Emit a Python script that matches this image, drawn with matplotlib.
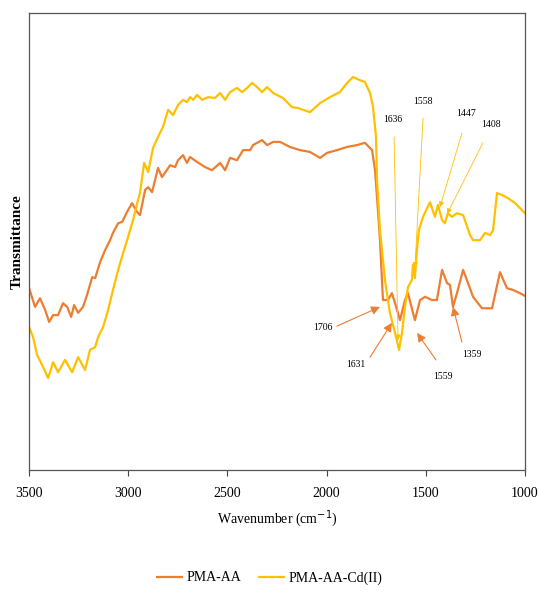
import matplotlib
matplotlib.use("Agg")
import matplotlib.pyplot as plt

# FTIR spectra (wavenumber in cm-1, transmittance in arbitrary units)
wn_pma = [3500, 3470, 3445, 3419, 3399, 3379, 3354, 3329, 3308, 3288, 3273, 3253, 3228, 3208,
          3182, 3167, 3142, 3117, 3092, 3077, 3051, 3031, 3006, 2981, 2956, 2941, 2915, 2900,
          2880, 2850, 2830, 2789, 2764, 2749, 2724, 2704, 2689, 2653, 2613, 2578, 2537, 2512,
          2487, 2452, 2421, 2386, 2371, 2326, 2300, 2270, 2235, 2185, 2134, 2084, 2033, 1998,
          1948, 1897, 1847, 1807, 1771, 1756, 1746, 1731, 1716, 1691, 1671, 1655, 1630, 1605,
          1590, 1555, 1529, 1504, 1469, 1444, 1418, 1393, 1378, 1363, 1343, 1312, 1287, 1262,
          1217, 1166, 1126, 1091, 1060, 1025, 1000]
t_pma = [39.8, 35.7, 37.6, 35.0, 32.4, 33.9, 33.9, 36.5, 35.7, 33.5, 36.1, 34.4, 35.7, 38.3,
         42.2, 42.0, 45.5, 48.1, 50.3, 51.9, 54.0, 54.3, 56.5, 58.4, 56.5, 55.8, 61.3, 61.9,
         60.8, 66.1, 64.1, 66.7, 66.3, 67.8, 68.9, 67.2, 68.5, 67.4, 66.3, 65.6, 67.2, 65.6,
         68.3, 67.8, 70.0, 70.0, 71.1, 72.2, 71.1, 71.8, 71.8, 70.7, 70.0, 69.6, 68.3, 69.4,
         70.0, 70.7, 71.1, 71.6, 70.0, 65.6, 59.7, 50.3, 37.2, 37.2, 38.7, 36.5, 32.8, 37.2,
         38.7, 32.8, 37.2, 37.9, 37.2, 37.2, 43.8, 40.9, 40.5, 35.7, 38.7, 43.8, 40.9, 37.9,
         35.4, 35.4, 43.3, 39.8, 39.4, 38.7, 38.1]

wn_cd = [3500, 3480, 3460, 3429, 3404, 3379, 3354, 3319, 3283, 3253, 3218, 3193, 3167, 3152,
         3127, 3102, 3077, 3051, 3026, 3001, 2976, 2951, 2941, 2920, 2900, 2875, 2850, 2825,
         2799, 2774, 2749, 2724, 2704, 2689, 2673, 2653, 2628, 2598, 2563, 2537, 2512, 2487,
         2452, 2426, 2401, 2376, 2351, 2326, 2300, 2270, 2220, 2174, 2144, 2084, 2033, 1983,
         1933, 1897, 1867, 1832, 1807, 1781, 1766, 1751, 1746, 1731, 1706, 1681, 1655, 1635,
         1620, 1605, 1590, 1570, 1565, 1555, 1545, 1535, 1514, 1479, 1454, 1439, 1418, 1404,
         1389, 1368, 1343, 1312, 1277, 1262, 1227, 1201, 1176, 1161, 1141, 1116, 1086, 1050,
         1025, 1000]
t_cd = [31.3, 29.1, 25.2, 22.5, 20.1, 23.6, 21.4, 24.1, 21.4, 24.7, 21.9, 26.3, 26.9, 29.1,
        31.3, 35.0, 39.4, 43.8, 47.5, 51.0, 54.7, 59.1, 60.6, 67.2, 65.2, 70.5, 72.9, 75.1,
        78.8, 77.7, 79.9, 81.0, 80.5, 81.6, 81.0, 82.1, 81.0, 81.6, 81.4, 82.5, 81.0, 82.7,
        83.6, 82.7, 83.6, 84.7, 83.8, 82.7, 83.8, 82.5, 81.4, 79.4, 79.2, 78.3, 80.3, 81.6,
        82.7, 84.7, 86.0, 85.3, 84.9, 82.5, 79.4, 72.9, 63.5, 52.5, 41.6, 34.4, 30.0, 26.3,
        30.0, 35.7, 40.0, 41.6, 44.9, 42.0, 48.1, 52.5, 55.4, 58.6, 55.4, 58.0, 54.7, 54.0,
        56.2, 55.4, 56.2, 55.8, 51.4, 50.3, 50.3, 51.9, 51.4, 52.5, 60.6, 60.2, 59.5, 58.4,
        57.3, 56.2]

# peak labels: (label, text position, arrow tail, arrow head)
pma_peaks = [("1706", (2018, 31.1), (1948, 31.5), (1731, 35.7)),
             ("1631", (1852, 23.0), (1781, 24.7), (1671, 32.2)),
             ("1559", (1413, 20.4), (1449, 24.1), (1544, 30.0)),
             ("1359", (1267, 25.2), (1318, 28.0), (1363, 35.7))]
cd_peaks = [("1636", (1665, 76.8), (1660, 72.9), (1640, 28.4)),
            ("1558", (1514, 80.7), (1514, 77.0), (1555, 44.2)),
            ("1447", (1298, 78.1), (1318, 73.7), (1429, 57.5)),
            ("1408", (1172, 75.7), (1212, 71.6), (1393, 56.0))]

orange = "#ED7D31"
gold = "#FFC000"
serif = ["Liberation Serif", "DejaVu Serif"]

fig = plt.figure(figsize=(5.39, 5.92), dpi=100)
ax = fig.add_axes([0.054, 0.206, 0.920, 0.772])

ax.plot(wn_pma, t_pma, color=orange, linewidth=1.6, label="PMA-AA")
ax.plot(wn_cd, t_cd, color=gold, linewidth=1.6, label="PMA-AA-Cd(II)")

for label, txt, tail, head in pma_peaks:
    ax.annotate("", xy=head, xytext=tail,
                arrowprops=dict(arrowstyle="-|>", color=orange, lw=0.8,
                                mutation_scale=13, shrinkA=0, shrinkB=0))
    ax.text(txt[0], txt[1], label, ha="center", va="center", fontsize=7, family=serif)

for label, txt, tail, head in cd_peaks:
    ax.annotate("", xy=head, xytext=tail,
                arrowprops=dict(arrowstyle="-|>", color=gold, lw=0.6,
                                mutation_scale=8, shrinkA=0, shrinkB=0))
    ax.text(txt[0], txt[1], label, ha="center", va="center", fontsize=7, family=serif)

ax.set_xlim(3500, 1000)
ax.set_ylim(0, 100)
ax.set_xticks([3500, 3000, 2500, 2000, 1500, 1000])
ax.set_yticks([])
ax.tick_params(axis="x", direction="out", length=4, width=0.8, color="#444444",
               labelsize=10, pad=8)
for lab in ax.get_xticklabels():
    lab.set_family(serif)
for s in ax.spines.values():
    s.set_color("#555555")
    s.set_linewidth(0.9)

ax.set_xlabel("Wavenumber (cm$^{-1}$)", fontsize=10, family=serif, labelpad=6)
ax.set_ylabel("Transmittance", fontsize=11, family=serif, fontweight="bold", labelpad=4)

fig.legend(loc="center", bbox_to_anchor=(0.5, 0.024), ncol=2, frameon=False,
           prop={"family": serif, "size": 10}, handlelength=1.8, handletextpad=0.3,
           columnspacing=1.3)

fig.savefig("out.png", dpi=100)
